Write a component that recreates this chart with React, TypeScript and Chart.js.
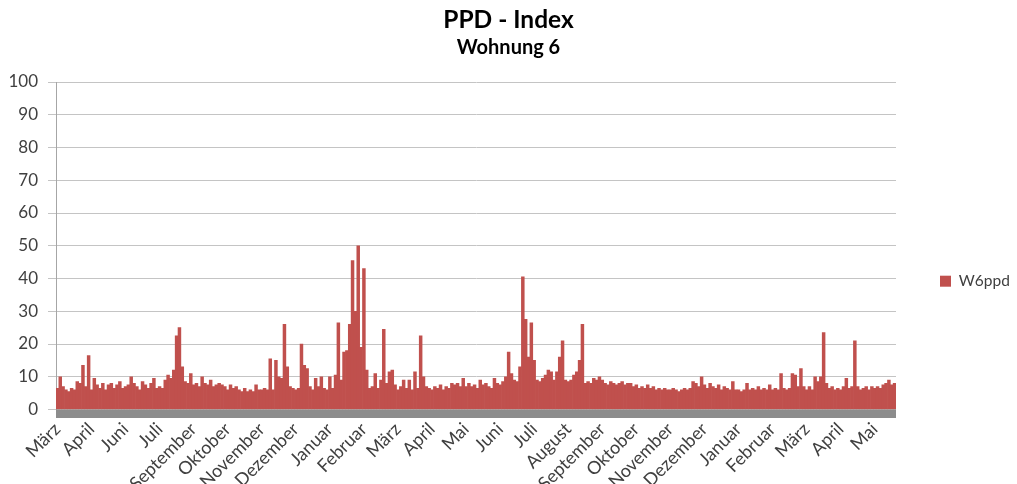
import React, { useEffect, useRef } from 'react';
import { Chart, registerables } from 'chart.js';

Chart.register(...registerables);

// Month tick labels (one every 12 categories)
const monthLabels = [
  'März', 'April', 'Juni', 'Juli', 'September', 'Oktober', 'November', 'Dezember',
  'Januar', 'Februar', 'März', 'April', 'Mai', 'Juni', 'Juli', 'August',
  'September', 'Oktober', 'November', 'Dezember', 'Januar', 'Februar', 'März', 'April', 'Mai',
];
const labelEvery = 12;

// W6ppd series values
const w6ppd = [
  6.5, 10, 7, 6, 5.5, 6.5, 6, 8.5, 8, 13.5, 7, 16.5,
  6, 9.5, 7.5, 6.5, 8, 6, 7.5, 8, 6.5, 7.5, 8.5, 6.5,
  7, 7.5, 10, 8, 7, 6, 8.5, 7.5, 6.5, 8, 9.5, 6.5,
  7, 6.5, 9, 10.5, 9.5, 12, 22.5, 25, 13, 8.5, 8, 11,
  7.5, 8, 7, 10, 8, 7.5, 9, 7, 7.5, 8, 7.5, 7,
  6, 7.5, 6.5, 7, 6, 5.5, 6.5, 5.5, 6, 5.5, 7.5, 6,
  6, 6.5, 6, 15.5, 6, 15, 10, 9.5, 26, 13, 7, 6.5,
  6, 6.5, 20, 13.5, 12.5, 7, 6, 9.5, 7, 10, 6.5, 6,
  10, 6.5, 10.5, 26.5, 9, 17.5, 18, 26, 45.5, 30, 50, 19, 43, 12,
  6.5, 7, 11, 6.5, 9, 24.5, 8, 11.5, 12, 7.5,
  6, 7, 9, 6.5, 9, 6, 11.5, 6.5, 22.5, 10, 7, 6.5,
  6, 7, 6.5, 7.5, 6, 7, 6.5, 8, 7.5, 8, 7, 9.5,
  7, 8, 7, 7.5, 6.5, 9, 7.5, 8, 7, 6.5, 9.5, 8,
  7.5, 8.5, 10, 17.5, 11, 9, 8.5, 13, 40.5, 27.5, 16, 26.5,
  15, 9, 8.5, 9.5, 10.5, 12, 11.5, 9, 11.5, 16, 21, 9,
  8.5, 9, 10.5, 11.5, 15, 26, 8, 8.5, 8, 9.5, 9, 10,
  9, 8, 7.5, 8.5, 8, 7.5, 8, 8.5, 7.5, 8, 8, 7,
  7.5, 6.5, 7, 6.5, 7.5, 6.5, 7, 6, 6.5, 6, 6.5, 6,
  6, 6.5, 6, 5.5, 6, 6.5, 6, 6.5, 8.5, 8, 7, 10,
  7.5, 6.5, 8, 7, 6.5, 7.5, 6, 7, 6.5, 6, 8.5, 6,
  6, 5.5, 6, 8, 6, 6.5, 6, 7, 6, 6.5, 6, 7.5,
  6, 6.5, 6, 11, 6.5, 6, 6.5, 11, 10.5, 7, 12.5, 7,
  6, 7, 6, 10, 8.5, 10, 23.5, 8, 6.5, 7, 6, 6.5,
  6, 7, 9.5, 6.5, 7, 21, 7, 6, 6.5, 7, 6, 7,
  6.5, 7, 6.5, 7.5, 8, 9, 7.5, 8,
];

const yMin = 0;
const yMax = 100;
const yStep = 10;

const categories = w6ppd.map((_, i) =>
  i % labelEvery === 0 ? monthLabels[i / labelEvery] ?? '' : ''
);

const FONT = 'Lato, "Open Sans", "DejaVu Sans", sans-serif';

const floorPlugin = {
  id: 'floor',
  beforeDatasetsDraw(chart: any) {
    const { ctx, chartArea } = chart;
    const y0 = chart.scales.y.getPixelForValue(0);
    ctx.save();
    ctx.fillStyle = '#8c8c8c';
    ctx.fillRect(chartArea.left, y0, chartArea.right - chartArea.left, 8.5);
    ctx.restore();
  },
};

export default function App() {
  const ref = useRef<HTMLCanvasElement>(null);

  useEffect(() => {
    const chart = new Chart(ref.current!, {
      type: 'bar',
      data: {
        labels: categories,
        datasets: [
          {
            label: 'W6ppd',
            data: w6ppd,
            backgroundColor: '#C0504D',
            borderWidth: 0,
            barPercentage: 1,
            categoryPercentage: 1,
          },
        ],
      },
      options: {
        animation: false,
        responsive: true,
        maintainAspectRatio: false,
        layout: { padding: { left: 0, right: 0, top: 0, bottom: 0 } },
        plugins: {
          title: {
            display: true,
            text: 'PPD - Index',
            color: '#000',
            font: { family: FONT, size: 24.5, weight: 'bold' },
            padding: { top: 5.5, bottom: 0 },
          },
          subtitle: {
            display: true,
            text: 'Wohnung 6',
            color: '#000',
            font: { family: FONT, size: 20, weight: 'bold' },
            padding: { top: 1.1, bottom: 22 },
          },
          legend: {
            position: 'right',
            align: 'center',
            maxWidth: 87,
            title: {
              display: true,
              text: ' ',
              font: { size: 12 },
              padding: { top: 64, bottom: 0, left: 0, right: 0 },
            },
            labels: {
              boxWidth: 11,
              boxHeight: 11,
              padding: 10,
              color: '#404040',
              font: { family: FONT, size: 15.5 },
            },
          },
          tooltip: { enabled: false },
        },
        scales: {
          x: {
            grid: { display: false, drawTicks: false },
            border: { display: false },
            ticks: {
              autoSkip: false,
              minRotation: 45,
              maxRotation: 45,
              padding: 9,
              color: '#404040',
              font: { family: FONT, size: 18 },
            },
            afterFit: (s: any) => {
              s.height = 74.5;
            },
          },
          y: {
            min: yMin,
            max: yMax,
            ticks: {
              stepSize: yStep,
              padding: 10,
              color: '#404040',
              font: { family: FONT, size: 17 },
            },
            grid: { color: '#c4c4c4', lineWidth: 1, tickLength: 8 },
            border: { display: true, color: '#a6a6a6' },
            afterFit: (s: any) => {
              s.width = 56;
            },
          },
          gap: {
            position: 'right',
            display: true,
            grid: { display: false, drawTicks: false },
            border: { display: false },
            ticks: { display: false },
            afterFit: (s: any) => {
              s.width = 34;
            },
          },
        },
      },
      plugins: [floorPlugin],
    } as any);
    return () => chart.destroy();
  }, []);

  return (
    <div style={{ position: 'fixed', left: 0, top: 0, width: 1017, height: 484, background: '#fff' }}>
      <canvas ref={ref} />
    </div>
  );
}
